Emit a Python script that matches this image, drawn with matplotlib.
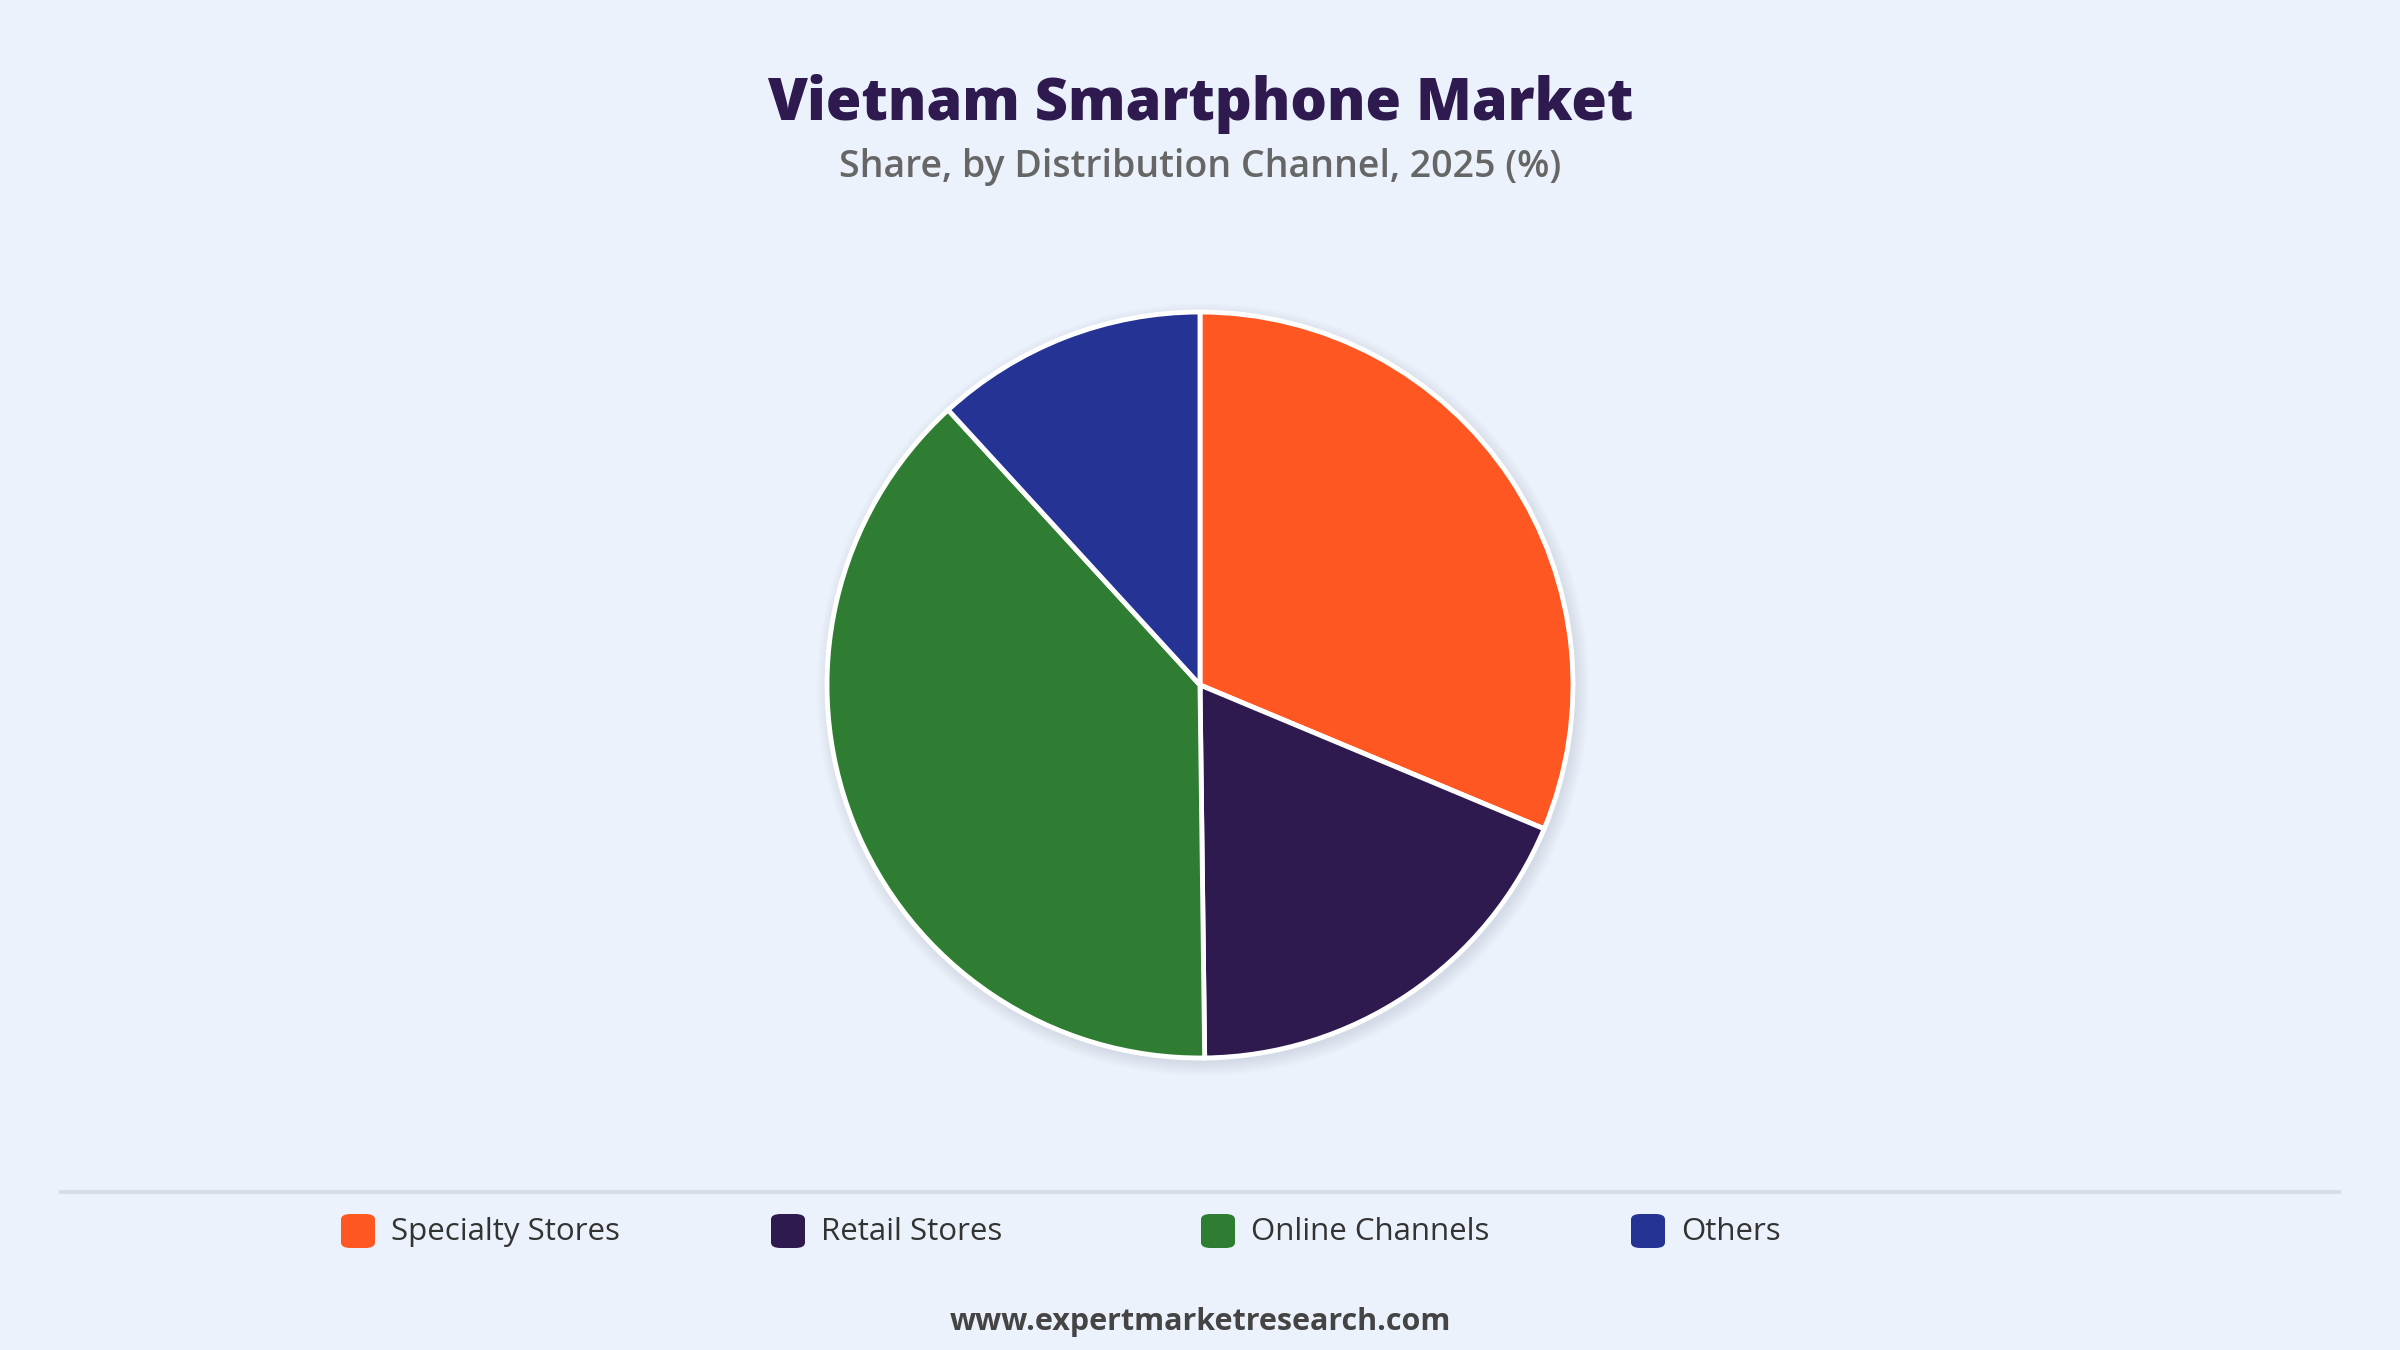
import matplotlib.pyplot as plt
from matplotlib.patches import FancyBboxPatch, Circle

# data
channels = ["Specialty Stores", "Retail Stores", "Online Channels", "Others"]
shares = [31.3, 18.5, 38.4, 11.8]
colours = ["#FF5722", "#2E1A4F", "#2E7D32", "#253494"]

bg = "#EBF2FB"
plt.rcParams['font.family'] = ['Open Sans', 'DejaVu Sans']

fig = plt.figure(figsize=(24, 13.5), dpi=100)
fig.patch.set_facecolor(bg)

# pie axes: centre ~ (1200, 684) px, radius ~373 px (axes padded by 5%)
r_px = 373 * 1.05
cx, cy = 1200, 1350 - 685
ax = fig.add_axes([(cx - r_px) / 2400, (cy - r_px) / 1350, 2 * r_px / 2400, 2 * r_px / 1350])
ax.set_facecolor(bg)

# soft shadow
for k in range(8):
    ax.add_patch(Circle((0.008, -0.012), 1.0 + 0.005 * k, color="#9aa6b8", alpha=0.035, zorder=0, lw=0))

ax.pie(shares, colors=colours, startangle=90, counterclock=False,
       wedgeprops=dict(edgecolor="white", linewidth=3.5, zorder=2))
ax.set_xlim(-1.05, 1.05)
ax.set_ylim(-1.05, 1.05)
ax.set_aspect("equal")
ax.axis("off")

fig.text(0.5, 1 - 104 / 1350, "Vietnam Smartphone Market", ha="center", va="center",
         fontsize=41.5, fontweight="heavy", color="#2E1A4F")
fig.text(0.5, 1 - 167 / 1350, "Share, by Distribution Channel, 2025 (%)", ha="center", va="center",
         fontsize=27, fontweight="semibold", color="#666666")

# separator
fig.add_artist(plt.Line2D([61 / 2400, 2339 / 2400], [1 - 1192 / 1350] * 2, color="#D9DEE6", lw=3))

# legend
for i, (lab, col) in enumerate(zip(channels, colours)):
    x0 = (341 + i * 430) / 2400
    y0 = 1 - 1248 / 1350
    fig.add_artist(FancyBboxPatch((x0, y0), 34 / 2400, 34 / 1350,
                                  boxstyle="round,pad=0,rounding_size=0.004",
                                  transform=fig.transFigure, facecolor=col, edgecolor="none"))
    fig.text(x0 + 50 / 2400, 1 - 1232 / 1350, lab, ha="left", va="center",
             fontsize=22.5, fontweight="medium", color="#333333")

fig.text(0.5, 1 - 1322 / 1350, "www.expertmarketresearch.com", ha="center", va="center",
         fontsize=22, fontweight="bold", color="#444444")

fig.savefig("out.png", dpi=100, facecolor=bg)
